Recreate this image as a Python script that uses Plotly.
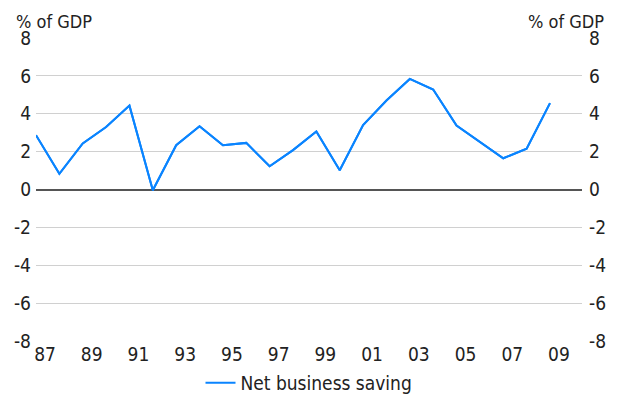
import plotly.graph_objects as go

# net business saving, % of GDP (annual)
years = list(range(1987, 2010))
saving = [2.87, 0.83, 2.43, 3.3, 4.43, -0.04, 2.34, 3.34, 2.34, 2.46, 1.23, 2.08,
          3.06, 1.02, 3.4, 4.7, 5.84, 5.28, 3.38, 2.5, 1.65, 2.15, 4.56]
tick_years = list(range(1987, 2010, 2))
tick_text = [str(y)[2:] for y in tick_years]
y_ticks = [8, 6, 4, 2, 0, -2, -4, -6, -8]
y_text = [str(v) for v in y_ticks]  # plain hyphen, not unicode minus

FONT = "Liberation Sans Narrow, DejaVu Sans Condensed, sans-serif"
BLUE = "#0a84ff"

fig = go.Figure()
fig.add_trace(go.Scatter(x=years, y=saving, mode="lines", name="Net business saving",
                         line=dict(color=BLUE, width=2)))
# same series on the right axis so it gets drawn
fig.add_trace(go.Scatter(x=years, y=saving, mode="lines", yaxis="y2", showlegend=False,
                         hoverinfo="skip", line=dict(color=BLUE, width=2)))

# page body has an 8px margin, so the figure is 8px smaller than the window
fig.update_layout(
    width=614, height=393,
    margin=dict(l=28, r=40, t=30, b=60),
    plot_bgcolor="white", paper_bgcolor="white",
    font=dict(family=FONT, size=19, color="#222"),
    xaxis=dict(range=[1987, 2010.37], tickvals=tick_years, ticktext=tick_text,
               ticklabelshift=9, showgrid=False, zeroline=False, ticks="",
               automargin=False),
    yaxis=dict(range=[-8, 8], tickvals=y_ticks, ticktext=y_text, showgrid=True,
               gridcolor="#d0d0d0", gridwidth=1, zeroline=True, zerolinecolor="#555",
               zerolinewidth=1.5, ticks="", ticklabelstandoff=4, automargin=False),
    yaxis2=dict(range=[-8, 8], tickvals=y_ticks, ticktext=y_text, overlaying="y",
                side="right", showgrid=False, zeroline=False, ticks="",
                ticklabelstandoff=6, automargin=False),
    showlegend=True,
    legend=dict(orientation="h", x=0.5, xanchor="center", yref="container", y=0.046,
                yanchor="middle"),
    annotations=[
        dict(text="% of GDP", x=0, xref="paper", xanchor="left", xshift=-21,
             y=1, yref="paper", yanchor="bottom", yshift=5, showarrow=False,
             borderpad=0, font=dict(size=18)),
        dict(text="% of GDP", x=1, xref="paper", xanchor="right", xshift=23,
             y=1, yref="paper", yanchor="bottom", yshift=5, showarrow=False,
             borderpad=0, font=dict(size=18)),
    ],
)

fig.write_html("out.html")
